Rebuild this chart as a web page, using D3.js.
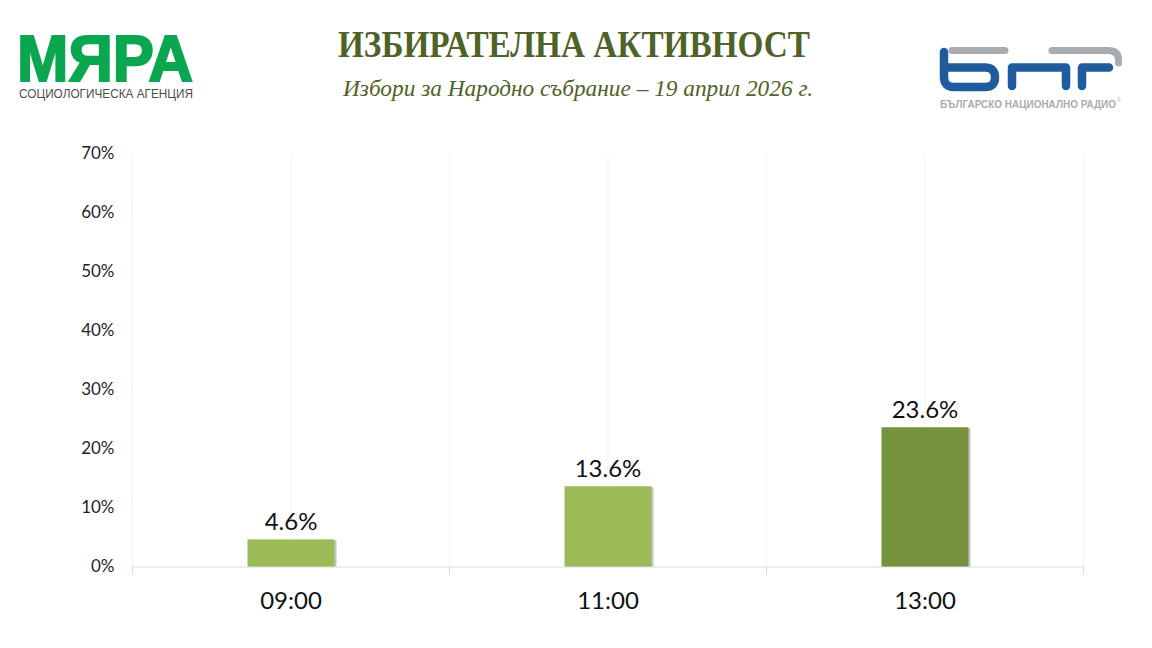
<!DOCTYPE html>
<html>
<head>
<meta charset="utf-8">
<script src="https://cdn.jsdelivr.net/npm/d3@7"></script>
<style>
html,body{margin:0;padding:0;background:#fff}
svg{display:block}
</style>
</head>
<body>
<div id="chart"></div>
<script>
// values
var hours=['09:00','11:00','13:00']
var turnout=[4.6,13.6,23.6]
var barColors=['#9bbb59','#9bbb59','#76923c']
var yTicks=[0,10,20,30,40,50,60,70]

var titleText='ИЗБИРАТЕЛНА АКТИВНОСТ'
var subtitleText='Избори за Народно събрание – 19 април 2026 г.'

var width=1152,height=648
var margin={top:153.5,right:68.5,bottom:81.5,left:132.5}

var svg=d3.select('#chart').append('svg').attr('width',width).attr('height',height)

var x=d3.scaleBand().domain(hours).range([margin.left,width-margin.right])
var y=d3.scaleLinear().domain([0,70]).range([height-margin.bottom,margin.top])
var barW=87

// vertical grid lines sit on band edges and centres
var gridX=[]
hours.forEach(function(h){
    gridX.push(x(h))
    gridX.push(x(h)+x.bandwidth()/2)
})
gridX.push(x.range()[1])
svg.append('g').selectAll('line').data(gridX).join('line')
    .attr('x1',d=>d).attr('x2',d=>d)
    .attr('y1',y(70)).attr('y2',y(0))
    .attr('stroke','#f3f3f3').attr('stroke-width',1)

// y axis, labels only
var yAxis=d3.axisLeft(y).tickValues(yTicks).tickFormat(d=>d+'%').tickSize(0).tickPadding(18)
var yG=svg.append('g').attr('transform','translate('+margin.left+',0)').call(yAxis)
yG.select('.domain').remove()
yG.selectAll('text').style('font-family','Lato').style('font-size','17px').attr('fill','#1f1f1f')

// x axis with ticks on band edges
var xAxis=d3.axisBottom(x).tickSize(0).tickPadding(25)
var xG=svg.append('g').attr('transform','translate(0,'+y(0)+')').call(xAxis)
xG.select('.domain').attr('stroke','#dcdcdc')
xG.selectAll('text').style('font-family','Lato').style('font-size','24px').attr('fill','#111')
svg.append('g').selectAll('line').data(gridX.filter((d,i)=>i%2==0)).join('line')
    .attr('x1',d=>d).attr('x2',d=>d)
    .attr('y1',y(0)).attr('y2',y(0)+8)
    .attr('stroke','#dcdcdc')

// bars with a small grey shadow on the right
var bars=svg.append('g').selectAll('g').data(hours).join('g')
bars.append('rect')
    .attr('x',d=>x(d)+x.bandwidth()/2-barW/2+2)
    .attr('y',(d,i)=>y(turnout[i])+1)
    .attr('width',barW)
    .attr('height',(d,i)=>y(0)-y(turnout[i])-1)
    .attr('fill','#c4c4c4')
bars.append('rect')
    .attr('x',d=>x(d)+x.bandwidth()/2-barW/2)
    .attr('y',(d,i)=>y(turnout[i]))
    .attr('width',barW)
    .attr('height',(d,i)=>y(0)-y(turnout[i]))
    .attr('fill',(d,i)=>barColors[i])
bars.append('text')
    .attr('x',d=>x(d)+x.bandwidth()/2)
    .attr('y',(d,i)=>y(turnout[i])-9.5)
    .attr('text-anchor','middle')
    .style('font-family','Lato').style('font-size','24px').attr('fill','#111')
    .text((d,i)=>turnout[i].toFixed(1)+'%')

// heading
svg.append('text').attr('x',574).attr('y',57).attr('text-anchor','middle')
    .attr('textLength',472).attr('lengthAdjust','spacingAndGlyphs')
    .style('font-family','Liberation Serif').style('font-weight','bold').style('font-size','37px')
    .attr('fill','#4f6228').text(titleText)
svg.append('text').attr('x',578).attr('y',96).attr('text-anchor','middle')
    .attr('textLength',470).attr('lengthAdjust','spacingAndGlyphs')
    .style('font-family','Liberation Serif').style('font-style','italic').style('font-size','23px')
    .attr('fill','#4f6228').text(subtitleText)

// Мяра logo
var myara=svg.append('g')
myara.append('text').attr('x',17).attr('y',80.5)
    .attr('textLength',176).attr('lengthAdjust','spacingAndGlyphs')
    .style('font-family','Liberation Sans').style('font-weight','bold').style('font-size','64px')
    .attr('stroke','#0ba750').attr('stroke-width',2)
    .attr('fill','#0ba750').text('МЯРА')
myara.append('text').attr('x',19).attr('y',97.5)
    .attr('textLength',174).attr('lengthAdjust','spacingAndGlyphs')
    .style('font-family','Liberation Sans').style('font-size','13.5px')
    .attr('fill','#4d4d4d').text('СОЦИОЛОГИЧЕСКА АГЕНЦИЯ')

// БНР logo
var bnr=svg.append('g').attr('fill','none').attr('stroke-linecap','round').attr('stroke-linejoin','round')
bnr.append('path').attr('d','M952 50.5H1005M1052 50.5H1108Q1118.5 50.5 1118.5 60V63')
    .attr('stroke','#a9acb1').attr('stroke-width',7)
bnr.append('path').attr('d','M944 52V77Q944 87 954 87H985Q995 87 995 77.5Q995 67.5 985 67.5H947')
    .attr('stroke','#1f5c9e').attr('stroke-width',8.5)
bnr.append('path').attr('d','M1012 86V67.5H1066V86')
    .attr('stroke','#1f5c9e').attr('stroke-width',8.5)
bnr.append('path').attr('d','M1082 86V67.5H1109')
    .attr('stroke','#1f5c9e').attr('stroke-width',8.5)
bnr.append('text').attr('x',940).attr('y',108)
    .attr('textLength',176).attr('lengthAdjust','spacingAndGlyphs')
    .attr('stroke','none').attr('fill','#a9acb1')
    .style('font-family','Liberation Sans').style('font-weight','bold').style('font-size','10px')
    .text('БЪЛГАРСКО НАЦИОНАЛНО РАДИО')
bnr.append('text').attr('x',1117).attr('y',102)
    .attr('stroke','none').attr('fill','#a9acb1')
    .style('font-family','Liberation Sans').style('font-size','5px')
    .text('®')
</script>
</body>
</html>
